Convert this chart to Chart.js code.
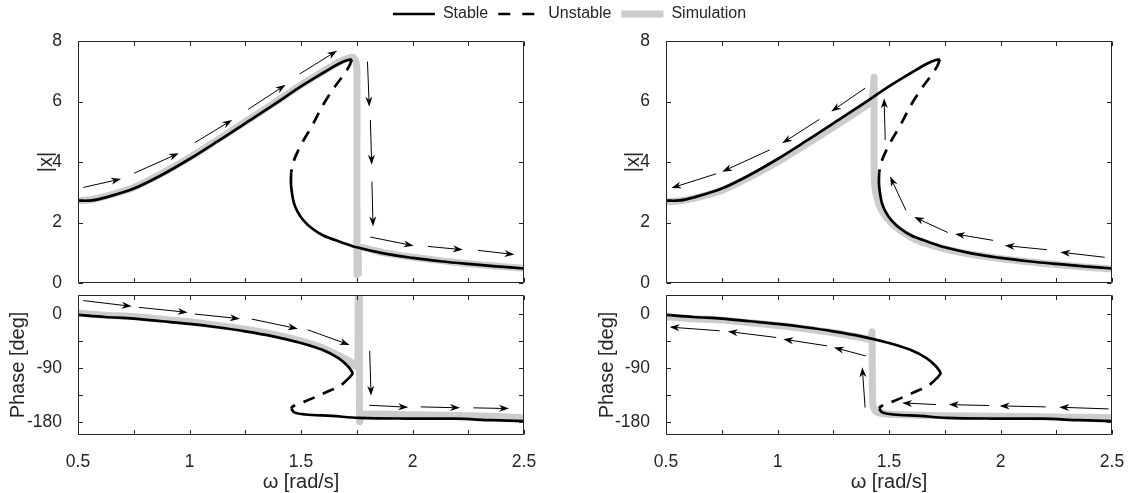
<!DOCTYPE html>
<html>
<head>
<meta charset="utf-8">
<script src="https://cdn.jsdelivr.net/npm/chart.js@4.4.1/dist/chart.umd.min.js"></script>
<style>
html, body { margin: 0; padding: 0; background: #fff; overflow: hidden; width: 1131px; height: 493px; }
canvas { position: absolute; }
</style>
</head>
<body>
<canvas id="legend"></canvas>
<canvas id="ampF"></canvas>
<canvas id="phF"></canvas>
<canvas id="ampB"></canvas>
<canvas id="phB"></canvas>
<script>
'use strict'

// ticks
const wTicks = [0.5, 0.75, 1, 1.25, 1.5, 1.75, 2, 2.25, 2.5];
const ampTicks = [0, 2, 4, 6, 8];
const phaseTicks = [-180, -135, -90, -45, 0];

// analytic branches, amplitude
const upW = [0.5, 0.563, 0.625, 0.75, 0.875, 1.0, 1.125, 1.25, 1.375, 1.5, 1.6, 1.67, 1.71, 1.728];
const upAmp = [2.72, 2.73, 2.83, 3.12, 3.57, 4.1, 4.68, 5.28, 5.88, 6.5, 6.95, 7.25, 7.37, 7.39];
const unW = [1.728, 1.715, 1.69, 1.65, 1.6, 1.55, 1.51, 1.477, 1.462, 1.456];
const unAmp = [7.39, 7.15, 6.87, 6.47, 5.9, 5.2, 4.7, 4.21, 3.9, 3.66];
const lowW = [1.456, 1.455, 1.459, 1.468, 1.485, 1.51, 1.55, 1.6, 1.68, 1.75, 1.875, 2.0, 2.125, 2.25, 2.375, 2.5];
const lowAmp = [3.66, 3.3, 3.0, 2.65, 2.35, 2.08, 1.8, 1.57, 1.35, 1.18, 0.97, 0.83, 0.72, 0.63, 0.55, 0.48];

// analytic branches, phase
const upPhW = [0.5, 0.622, 0.75, 0.876, 1.0, 1.124, 1.25, 1.375, 1.5, 1.593, 1.668, 1.705, 1.725, 1.731, 1.722];
const upPh = [-2, -5.5, -8, -12.5, -17, -22.5, -29.2, -37.5, -48.5, -59.5, -73.5, -85, -94, -99, -104];
const unPhW = [1.722, 1.7, 1.674, 1.62, 1.568, 1.52, 1.48, 1.462, 1.456];
const unPh = [-104, -112, -120, -129, -137.5, -145, -150.5, -154, -157];
const lowPhW = [1.456, 1.47, 1.519, 1.638, 1.758, 1.967, 2.19, 2.355, 2.5];
const lowPh = [-157, -163.5, -167, -169.4, -172.5, -173.8, -174, -176.5, -178];

// simulation, forward sweep
const simFW = [0.5, 0.563, 0.625, 0.75, 0.875, 1.0, 1.125, 1.25, 1.375, 1.5, 1.6, 1.67, 1.71, 1.735, 1.747, 1.751, 1.751, 1.757, 1.758, 1.775, 1.875, 2.0, 2.125, 2.25, 2.375, 2.5];
const simFAmp = [2.72, 2.76, 2.87, 3.16, 3.62, 4.15, 4.73, 5.33, 5.93, 6.55, 7.0, 7.3, 7.43, 7.46, 7.3, 6.9, 0.28, 0.3, 1.1, 1.17, 0.99, 0.85, 0.74, 0.64, 0.56, 0.49];
const simFPhW = [0.5, 0.622, 0.75, 0.876, 1.0, 1.124, 1.25, 1.375, 1.5, 1.593, 1.668, 1.72, 1.745, 1.755, 1.757, 1.762, 1.763, 1.775, 2.0, 2.19, 2.355, 2.5];
const simFPh = [1, -2.5, -4.8, -9, -13.4, -19, -25.6, -33.9, -45, -56, -69, -79, -88, -75, 60, 60, -179, -167, -167.5, -168.5, -170, -172.5];

// simulation, backward sweep
const simBW = [2.5, 2.375, 2.25, 2.125, 2.0, 1.875, 1.75, 1.62, 1.53, 1.48, 1.455, 1.44, 1.434, 1.433, 1.433, 1.43, 1.42, 1.375, 1.25, 1.125, 1.0, 0.875, 0.75, 0.625, 0.563, 0.5];
const simBAmp = [0.46, 0.53, 0.61, 0.7, 0.81, 0.94, 1.13, 1.43, 1.85, 2.25, 2.6, 3.0, 3.5, 5.0, 6.8, 6.45, 6.0, 5.75, 5.15, 4.57, 4.0, 3.5, 3.06, 2.8, 2.72, 2.68];
const simBPhW = [2.5, 2.25, 2.0, 1.75, 1.55, 1.47, 1.44, 1.428, 1.425, 1.424, 1.422, 1.41, 1.375, 1.25, 1.124, 1.0, 0.876, 0.75, 0.622, 0.5];
const simBPh = [-172.5, -171, -170, -169, -167.5, -165.5, -162, -152, -100, -30, -37, -42.5, -39.5, -31.5, -25, -19.5, -15, -10.5, -8.5, -5];

// annotation arrows [w0, y0, w1, y1]
const arrAmpF = [
  [0.524, 3.16, 0.693, 3.44], [0.752, 3.63, 0.952, 4.29], [1.024, 4.64, 1.191, 5.39],
  [1.263, 5.74, 1.431, 6.55], [1.494, 6.91, 1.662, 7.68],
  [1.798, 7.32, 1.806, 5.83], [1.811, 5.39, 1.817, 3.91], [1.818, 3.35, 1.823, 1.87],
  [1.811, 1.52, 2.005, 1.23], [2.069, 1.21, 2.226, 1.10], [2.293, 1.08, 2.457, 0.94]
];
const arrPhF = [
  [0.524, 21.7, 0.741, 12.2], [0.773, 10.5, 0.992, 2.2], [1.024, -0.6, 1.226, -8.3],
  [1.279, -8.9, 1.486, -25], [1.53, -26.7, 1.718, -51.7], [1.808, -61.7, 1.814, -136],
  [1.806, -151.7, 1.981, -155], [2.037, -154.4, 2.213, -156], [2.273, -156, 2.433, -157.2]
];
const arrAmpB = [
  [1.393, 6.44, 1.241, 5.67], [1.188, 5.41, 1.021, 4.62], [0.965, 4.40, 0.752, 3.68],
  [0.725, 3.61, 0.524, 3.14], [1.483, 4.73, 1.478, 6.11], [1.576, 2.40, 1.505, 3.52],
  [1.763, 1.67, 1.613, 2.18], [1.967, 1.41, 1.796, 1.62], [2.208, 1.10, 2.019, 1.24],
  [2.467, 0.85, 2.268, 1.02]
];
const arrPhB = [
  [1.396, -70, 1.253, -56], [1.222, -53.3, 1.026, -42.2], [0.994, -39.4, 0.777, -29.4],
  [0.741, -28.3, 0.516, -22.2], [1.393, -155.6, 1.380, -88.9], [2.485, -157.8, 2.263, -155],
  [2.203, -154.4, 1.996, -152.8], [1.950, -152.2, 1.768, -150.6], [1.711, -150.6, 1.559, -147.8]
];

const txtCol = '#262626';
const simCol = '#cccccc';
Chart.defaults.font.family = "'Liberation Sans', Arial, sans-serif";
Chart.defaults.color = txtCol;

function pts(xs, ys) {
  return xs.map((x, i) => ({x: x, y: ys[i]}));
}

function place(id, left, top, w, h) {
  const c = document.getElementById(id);
  c.width = w; c.height = h;
  c.style.left = left + 'px'; c.style.top = top + 'px';
  c.style.width = w + 'px'; c.style.height = h + 'px';
  return c;
}

function curve(data, color, width, dash, order, tension, cap) {
  return {
    data: data, showLine: true, pointRadius: 0, borderColor: color, borderWidth: width,
    borderDash: dash, order: order, tension: tension, clip: 0,
    borderCapStyle: cap, borderJoinStyle: 'round'
  };
}

function noPad(s) {
  s.paddingLeft = 0; s.paddingRight = 0; s.paddingTop = 0; s.paddingBottom = 0;
}

// box with inward ticks
const frame = {
  id: 'frame',
  afterDraw(chart) {
    const {ctx, chartArea: a, scales: {x, y}} = chart;
    const L = Math.round(a.left) + 0.5, R = Math.round(a.right) - 0.5;
    const T = Math.round(a.top) + 0.5, B = Math.round(a.bottom) - 0.5;
    const tl = 4.5;
    ctx.save();
    ctx.strokeStyle = txtCol;
    ctx.lineWidth = 1;
    ctx.beginPath();
    ctx.rect(L, T, R - L, B - T);
    x.ticks.forEach(t => {
      const p = Math.round(x.getPixelForValue(t.value)) + 0.5;
      ctx.moveTo(p, B); ctx.lineTo(p, B - tl);
      ctx.moveTo(p, T); ctx.lineTo(p, T + tl);
    });
    y.ticks.forEach(t => {
      const p = Math.round(y.getPixelForValue(t.value)) + 0.5;
      ctx.moveTo(L, p); ctx.lineTo(L + tl, p);
      ctx.moveTo(R, p); ctx.lineTo(R - tl, p);
    });
    ctx.stroke();
    ctx.restore();
  }
};

function arrowPlugin(list) {
  return {
    id: 'arrows',
    afterDatasetsDraw(chart) {
      const {ctx, scales: {x, y}} = chart;
      const hl = 10, hw = 3.5, notch = 7;
      ctx.save();
      ctx.strokeStyle = '#000';
      ctx.fillStyle = '#000';
      ctx.lineWidth = 1;
      list.forEach(a => {
        const x0 = x.getPixelForValue(a[0]), y0 = y.getPixelForValue(a[1]);
        const x1 = x.getPixelForValue(a[2]), y1 = y.getPixelForValue(a[3]);
        const ang = Math.atan2(y1 - y0, x1 - x0);
        const c = Math.cos(ang), s = Math.sin(ang);
        ctx.beginPath();
        ctx.moveTo(x0, y0);
        ctx.lineTo(x1 - c * notch, y1 - s * notch);
        ctx.stroke();
        ctx.beginPath();
        ctx.moveTo(x1, y1);
        ctx.lineTo(x1 - c * hl - s * hw, y1 - s * hl + c * hw);
        ctx.lineTo(x1 - c * notch, y1 - s * notch);
        ctx.lineTo(x1 - c * hl + s * hw, y1 - s * hl - c * hw);
        ctx.closePath();
        ctx.fill();
      });
      ctx.restore();
    }
  };
}

function panel(id, area, yW, xH, p) {
  const padT = 15, padR = 16;
  const w = yW + (area.r - area.l) + padR;
  const h = padT + (area.b - area.t) + xH;
  const cv = place(id, area.l - yW, area.t - padT, w, h);
  return new Chart(cv, {
    type: 'scatter',
    data: {
      datasets: [
        curve(pts(p.up[0], p.up[1]), '#000', 2.7, [], 1, 0.35, 'butt'),
        curve(pts(p.low[0], p.low[1]), '#000', 2.7, [], 1, 0.35, 'butt'),
        curve(pts(p.un[0], p.un[1]), '#000', 2.7, [12, 9], 2, 0.35, 'butt'),
        curve(pts(p.sim[0], p.sim[1]), simCol, 7, [], 3, 0.2, 'round')
      ]
    },
    options: {
      responsive: false,
      animation: false,
      events: [],
      layout: {padding: {left: 0, right: padR, top: padT, bottom: 0}},
      plugins: {legend: {display: false}, tooltip: {enabled: false}},
      scales: {
        x: {
          type: 'linear', min: 0.5, max: 2.5,
          grid: {display: false}, border: {display: false},
          afterBuildTicks: s => { s.ticks = wTicks.map(v => ({value: v})); },
          afterFit: s => { s.height = xH; noPad(s); },
          ticks: {
            display: p.showX, padding: 9, autoSkip: false, maxRotation: 0,
            font: {size: 17.5}, color: txtCol,
            callback: v => (Math.abs(v * 2 - Math.round(v * 2)) < 1e-9 ? String(v) : '')
          },
          title: {display: p.showX, text: 'ω [rad/s]', font: {size: 20}, padding: 0, color: txtCol}
        },
        y: {
          type: 'linear', min: p.yMin, max: p.yMax,
          grid: {display: false}, border: {display: false},
          afterBuildTicks: s => { s.ticks = p.yTicks.map(v => ({value: v})); },
          afterFit: s => { s.width = yW; noPad(s); },
          ticks: {
            padding: 8, autoSkip: false, font: {size: 17.5}, color: txtCol,
            callback: v => (v % p.yEvery === 0 ? String(v) : '')
          },
          title: {display: true, text: p.yTitle, font: {size: 20}, padding: 0, color: txtCol}
        }
      }
    },
    plugins: [frame, arrowPlugin(p.arrows)]
  });
}

const ampBase = {yMin: 0, yMax: 8, yTicks: ampTicks, yEvery: 2, yTitle: '|x|', showX: false,
  up: [upW, upAmp], un: [unW, unAmp], low: [lowW, lowAmp]};
const phBase = {yMin: -201, yMax: 31, yTicks: phaseTicks, yEvery: 90, yTitle: 'Phase [deg]', showX: true,
  up: [upPhW, upPh], un: [unPhW, unPh], low: [lowPhW, lowPh]};

panel('ampF', {l: 78, r: 524, t: 41, b: 283}, 44, 15,
  Object.assign({}, ampBase, {sim: [simFW, simFAmp], arrows: arrAmpF}));
panel('phF', {l: 78, r: 524, t: 295, b: 435}, 72, 59,
  Object.assign({}, phBase, {sim: [simFPhW, simFPh], arrows: arrPhF}));
panel('ampB', {l: 666, r: 1112, t: 41, b: 283}, 45, 15,
  Object.assign({}, ampBase, {sim: [simBW, simBAmp], arrows: arrAmpB}));
panel('phB', {l: 666, r: 1112, t: 295, b: 435}, 71, 59,
  Object.assign({}, phBase, {sim: [simBPhW, simBPh], arrows: arrPhB}));

// shared legend
new Chart(place('legend', 0, -4, 1131, 90), {
  type: 'line',
  data: {
    labels: [],
    datasets: [
      {label: 'Stable', data: [], borderColor: '#000', borderWidth: 2.7, borderCapStyle: 'butt'},
      {label: 'Unstable', data: [], borderColor: '#000', borderWidth: 2.7, borderDash: [11, 13], borderCapStyle: 'butt'},
      {label: 'Simulation', data: [], borderColor: simCol, borderWidth: 7, borderCapStyle: 'butt'}
    ]
  },
  options: {
    responsive: false,
    animation: false,
    events: [],
    layout: {padding: {left: 8}},
    scales: {x: {display: false}, y: {display: false}},
    plugins: {
      tooltip: {enabled: false},
      legend: {
        position: 'top',
        labels: {boxWidth: 42, boxHeight: 0, padding: 10, font: {size: 16}, color: txtCol}
      }
    }
  }
});
</script>
</body>
</html>
